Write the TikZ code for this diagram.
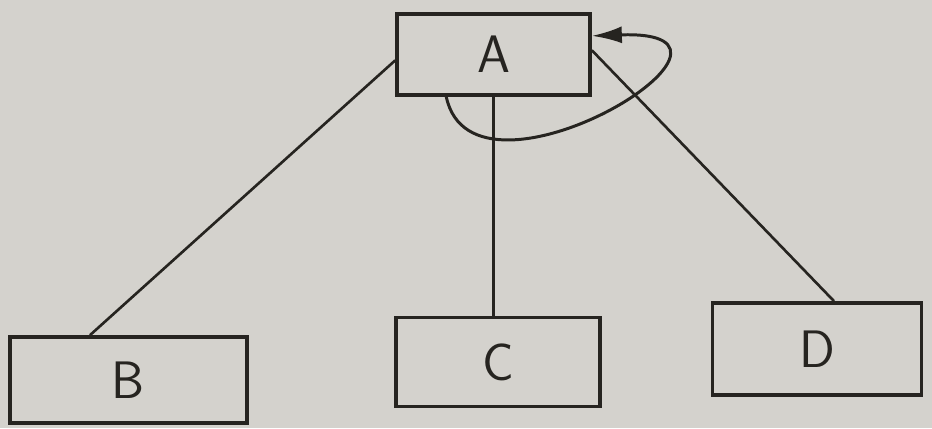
\documentclass[tikz,border=0pt]{standalone}
\usepackage{tikz}
\usetikzlibrary{arrows.meta,calc,positioning}
\definecolor{paper}{RGB}{212,210,205}
\definecolor{ink}{RGB}{38,36,32}
\tikzset{
  box/.style       = {rectangle, draw=ink, line width=2.1pt, inner sep=0pt,
                      font=\sffamily\fontsize{30}{36}\selectfont, text=ink},
  link/.style      = {draw=ink, line width=1.5pt},
  loop arrow/.style= {draw=ink, line width=1.7pt,
                      -{Latex[length=6mm,width=3.4mm]}},
}

\begin{document}
\begin{tikzpicture}
  \fill[paper] (0,0) rectangle (18.64,8.56);
  \useasboundingbox (0,0) rectangle (18.64,8.56);

  \node[box, minimum width=3.86cm, minimum height=1.62cm] (A) at (9.87,7.47) {A};
  \node[box, minimum width=4.74cm, minimum height=1.72cm] (B) at (2.57,0.96) {B};
  \node[box, minimum width=4.08cm, minimum height=1.78cm] (C) at (9.96,1.32) {C};
  \node[box, minimum width=4.18cm, minimum height=1.84cm] (D) at (16.34,1.58) {D};

  % links
  \coordinate (Bt) at ($(B.north west)!0.34!(B.north east)$);
  \coordinate (Dt) at ($(D.north west)!0.58!(D.north east)$);
  \coordinate (Al) at ($(A.north west)!0.57!(A.south west)$);
  \coordinate (Ar) at ($(A.north east)!0.45!(A.south east)$);
  \draw[link] (Al) -- (Bt);
  \draw[link] (A.south) -- (A.south |- C.north);
  \draw[link] (Ar) -- (Dt);

  % self loop
  \coordinate (Ls) at ($(A.south west)!0.26!(A.south east)$);
  \coordinate (Le) at ($(A.north east)!0.28!(A.south east)$);
  \draw[loop arrow] (Ls) .. controls +(-78:2.6) and +(2:4.0) .. (Le);
\end{tikzpicture}
\end{document}
